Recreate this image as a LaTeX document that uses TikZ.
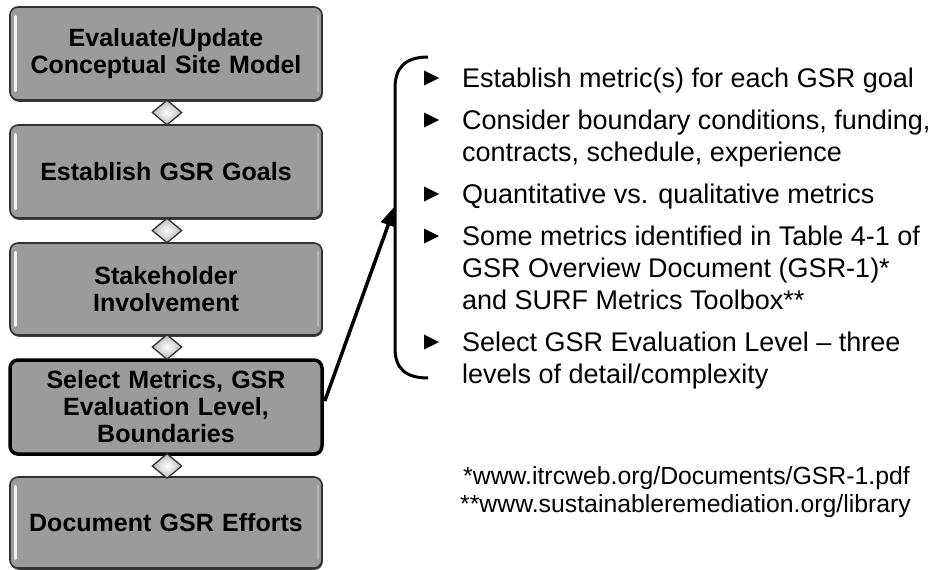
\documentclass[tikz,border=0pt]{standalone}
\usepackage{fontspec}
\setmainfont{Liberation Sans}
\usetikzlibrary{shapes.geometric,arrows.meta,calc,shadows}
\definecolor{boxgray}{RGB}{155,155,155}
\definecolor{edgegray}{RGB}{50,50,50}
\begin{document}
\begin{tikzpicture}[x=1pt,y=-1pt,
  stepbox/.style={rounded corners=8pt, fill=boxgray, draw=edgegray, line width=1.6pt,
    minimum width=312pt, text width=306pt, align=center, inner sep=0pt,
    font=\bfseries\fontsize{25}{27}\selectfont,
    drop shadow={shadow xshift=0.8pt, shadow yshift=-1.8pt, fill=black!75, opacity=1}},
  keybox/.style={stepbox, draw=black, line width=3.5pt},
  hl/.style={white, line width=2.6pt, line cap=round, opacity=0.85},
  hr/.style={black!25, line width=2pt, line cap=round, opacity=0.8},
  gem/.style={diamond, draw=edgegray, line width=1.3pt, inner sep=0pt,
    minimum width=30pt, minimum height=25pt, inner color=white, outer color=black!28},
  btxt/.style={anchor=base west, inner sep=0pt, font=\fontsize{27}{32}\selectfont},
  fnote/.style={anchor=base west, inner sep=0pt, font=\fontsize{24.8}{28}\selectfont},
  arr/.style={line width=3.5pt, -{Triangle[length=20pt,width=15pt]}},
  tri/.style={fill=black}
]
\useasboundingbox (0,0) rectangle (946,570);

% step boxes
\node[stepbox, minimum height=93pt] (s1) at (166,53.5) {Evaluate/Update\\Conceptual Site Model};
\node[stepbox, minimum height=93pt] (s2) at (166,171.5) {Establish GSR Goals};
\node[stepbox, minimum height=92pt] (s3) at (166,289) {Stakeholder\\Involvement};
\node[keybox, minimum height=94pt] (s4) at (166,407) {Select Metrics, GSR\\Evaluation Level,\\Boundaries};
\node[stepbox, minimum height=91pt] (s5) at (166,522.5) {Document GSR Efforts};

% bevel highlights
\foreach \n in {s1,s2,s3,s5}{
  \draw[hl] ($(\n.north west)+(6,10)$) -- ($(\n.south west)+(6,-10)$);
  \draw[hr] ($(\n.north east)+(-5,10)$) -- ($(\n.south east)+(-5,-10)$);
}

% diamonds between steps
\node[gem] (d1) at (167,112.5) {};
\node[gem] (d2) at (167,230.5) {};
\node[gem] (d3) at (167,347) {};
\node[gem] (d4) at (167,466) {};

% bracket
\draw[line width=3pt] (428,57) .. controls (405,57) and (395,68) .. (395,88)
  -- (395,348) .. controls (395,368) and (405,378) .. (428,378);

% arrow
\coordinate (tip) at (395,206);
\draw[arr] ($(s4.east)+(1,-6)$) -- (tip);

% bullets
\fill[tri] (424,70.5) -- (439,78) -- (424,85.5) -- cycle;
\node[btxt] (b1) at (462,87) {Establish metric(s) for each GSR goal};
\fill[tri] (424,112.5) -- (439,120) -- (424,127.5) -- cycle;
\node[btxt] (b2a) at (462,129) {Consider boundary conditions, funding,};
\node[btxt] (b2b) at (462,161) {contracts, schedule, experience};
\fill[tri] (424,186.5) -- (439,194) -- (424,201.5) -- cycle;
\node[btxt] (b3) at (462,203) {Quantitative vs. qualitative metrics};
\fill[tri] (424,228.5) -- (439,236) -- (424,243.5) -- cycle;
\node[btxt] (b4a) at (462,245) {Some metrics identified in Table 4-1 of};
\node[btxt] (b4b) at (462,277) {GSR Overview Document (GSR-1)*};
\node[btxt] (b4c) at (462,309) {and SURF Metrics Toolbox**};
\fill[tri] (424,334.5) -- (439,342) -- (424,349.5) -- cycle;
\node[btxt] (b5a) at (462,351) {Select GSR Evaluation Level -- three};
\node[btxt] (b5b) at (462,383) {levels of detail/complexity};

% footnotes
\node[fnote] (f1) at (463,484) {*www.itrcweb.org/Documents/GSR-1.pdf};
\node[fnote] (f2) at (460,512) {**www.sustainableremediation.org/library};
\end{tikzpicture}
\end{document}
